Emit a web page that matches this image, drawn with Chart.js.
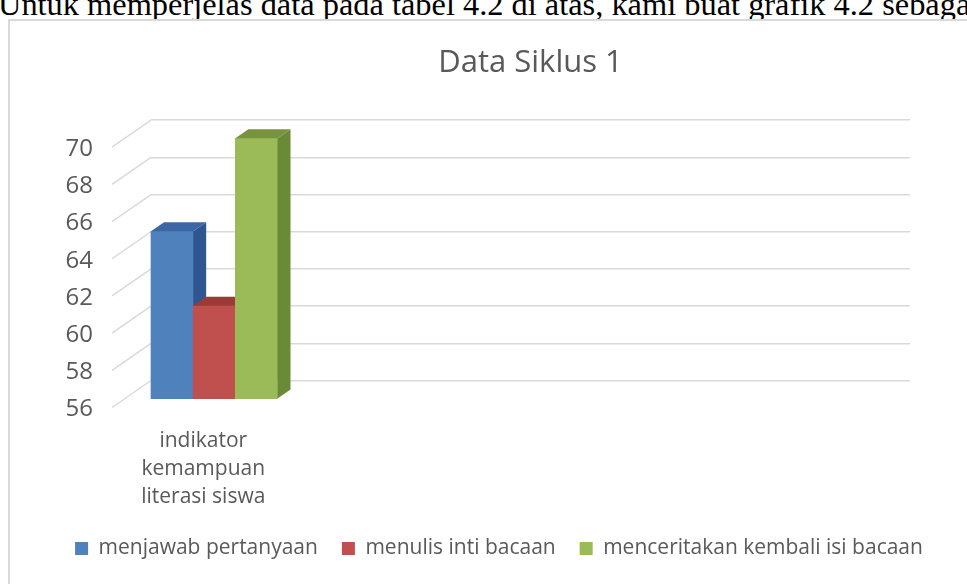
<!DOCTYPE html>
<html>
<head>
<meta charset="utf-8">
<script src="https://cdn.jsdelivr.net/npm/chart.js@4.4.1/dist/chart.umd.min.js"></script>
<style>
  html, body { margin: 0; padding: 0; background: #ffffff; overflow: hidden; width: 967px; height: 584px; }
  #lead { position: absolute; left: -2px; top: -12px; white-space: nowrap;
          font-family: "Liberation Serif", "Times New Roman", serif; font-size: 32.4px; line-height: 32px; color: #000; }
  #frame { position: absolute; left: 8px; top: 19px; width: 1040px; height: 620px;
           border: 2px solid #d9d9d9; box-sizing: border-box; background: #fff; }
  #wrap { position: absolute; left: 11px; top: 21px; width: 956px; height: 563px; }
</style>
</head>
<body>
<div id="lead">Untuk memperjelas data pada tabel 4.2 di atas, kami buat grafik 4.2 sebagai berikut</div>
<div id="frame"></div>
<div id="wrap"><canvas id="c"></canvas></div>
<script>
// ---- data ----
const categories = [["indikator", "kemampuan", "literasi siswa"], "", "", "", "", ""];
const seriesNames = ["menjawab pertanyaan", "menulis inti bacaan", "menceritakan kembali isi bacaan"];
const menjawabPertanyaan = [65];
const menulisIntiBacaan = [61];
const menceritakanKembali = [70];
const yTicks = [56, 58, 60, 62, 64, 66, 68, 70];

// ---- styles ----
const frontColors = ["#4f81bd", "#c0504d", "#9bbb59"];
const sideColors  = ["#2f5690", "#8f3331", "#6b8a36"];
const topColors   = ["#3b67a6", "#9c3a38", "#77943c"];
const textColor = "#595959";
const FONT = "'Open Sans', 'Noto Sans', sans-serif";

const seriesValues = [menjawabPertanyaan, menulisIntiBacaan, menceritakanKembali];

const datasets = seriesValues.map((vals, i) => ({
  label: seriesNames[i],
  data: vals,
  backgroundColor: frontColors[i],
  borderWidth: 0,
  base: yTicks[0],
  yAxisID: 'yBar',
  sideColor: sideColors[i],
  topColor: topColors[i],
  categoryPercentage: 1.0,
  barPercentage: 1.0
}));

// 3D look: redraw every bar front (in series order) followed by its side and top faces,
// all taken from the bar elements that the scales produced
const DEPTH_X = 13, DEPTH_Y = 9;
const bar3d = {
  id: 'bar3d',
  afterDatasetsDraw(chart) {
    const ctx = chart.ctx;
    chart.data.datasets.forEach((ds, i) => {
      const meta = chart.getDatasetMeta(i);
      meta.data.forEach(el => {
        const p = el.getProps(['x', 'y', 'base', 'width'], true);
        if (!isFinite(p.y)) return;
        el.draw(ctx, chart.chartArea);
        const l = p.x - p.width / 2, r = p.x + p.width / 2;
        ctx.save();
        ctx.fillStyle = ds.topColor;
        ctx.beginPath();
        ctx.moveTo(l, p.y);
        ctx.lineTo(l + DEPTH_X, p.y - DEPTH_Y);
        ctx.lineTo(r + DEPTH_X, p.y - DEPTH_Y);
        ctx.lineTo(r, p.y);
        ctx.closePath();
        ctx.fill();
        ctx.fillStyle = ds.sideColor;
        ctx.beginPath();
        ctx.moveTo(r, p.y);
        ctx.lineTo(r + DEPTH_X, p.y - DEPTH_Y);
        ctx.lineTo(r + DEPTH_X, p.base - DEPTH_Y);
        ctx.lineTo(r, p.base);
        ctx.closePath();
        ctx.fill();
        ctx.restore();
      });
    });
  }
};

// depth connectors on the left wall, one per y tick
const wallLines = {
  id: 'wallLines',
  beforeDatasetsDraw(chart) {
    const ys = chart.scales.y;
    const ctx = chart.ctx;
    const left = chart.chartArea.left;
    ctx.save();
    ctx.strokeStyle = '#d9d9d9';
    ctx.lineWidth = 1.5;
    ys.ticks.forEach(t => {
      const py = ys.getPixelForValue(t.value);
      ctx.beginPath();
      ctx.moveTo(left - 39, py + 27);
      ctx.lineTo(left, py);
      ctx.stroke();
    });
    ctx.restore();
  }
};

// the bars stand about one unit in front of the back wall
const WALL_DEPTH_UNITS = 0.973;

new Chart(document.getElementById('c'), {
  type: 'bar',
  data: { labels: categories, datasets },
  plugins: [wallLines, bar3d],
  options: {
    responsive: true,
    maintainAspectRatio: false,
    animation: false,
    devicePixelRatio: 1,
    layout: { padding: { left: 40, right: 20, top: 0, bottom: 15 } },
    scales: {
      x: {
        grid: { display: false, drawTicks: false },
        border: { display: false },
        ticks: {
          autoSkip: false, maxRotation: 0, padding: 47, labelOffset: -11,
          color: textColor, font: { family: FONT, size: 21, lineHeight: 1.333 }
        },
        afterFit(s) { s.height = 133.5; }
      },
      y: {
        position: 'left',
        min: yTicks[0], max: yTicks[yTicks.length - 1],
        afterBuildTicks(s) { s.ticks = yTicks.map(v => ({ value: v })); },
        grid: { color: '#d9d9d9', lineWidth: 1.5, drawTicks: false },
        border: { display: false },
        ticks: {
          padding: 58, labelOffset: 29,
          color: textColor, font: { family: FONT, size: 24 }
        },
        afterFit(s) { s.width = 100; }
      },
      yBar: {
        position: 'right',
        min: yTicks[0] + WALL_DEPTH_UNITS, max: yTicks[yTicks.length - 1] + WALL_DEPTH_UNITS,
        grid: { display: false, drawTicks: false },
        border: { display: false },
        ticks: { display: false },
        afterFit(s) { s.width = 37; }
      }
    },
    plugins: {
      title: {
        display: true, text: 'Data Siklus 1', fullSize: false,
        color: textColor, font: { family: FONT, size: 31, weight: 'normal' },
        padding: { top: 24, bottom: 38 }
      },
      legend: {
        position: 'bottom',
        labels: {
          boxWidth: 13, boxHeight: 13, padding: 24, color: textColor,
          font: { family: FONT, size: 21 },
          sort: (a, b) => a.datasetIndex - b.datasetIndex
        }
      },
      tooltip: { enabled: false }
    }
  }
});
</script>
</body>
</html>
